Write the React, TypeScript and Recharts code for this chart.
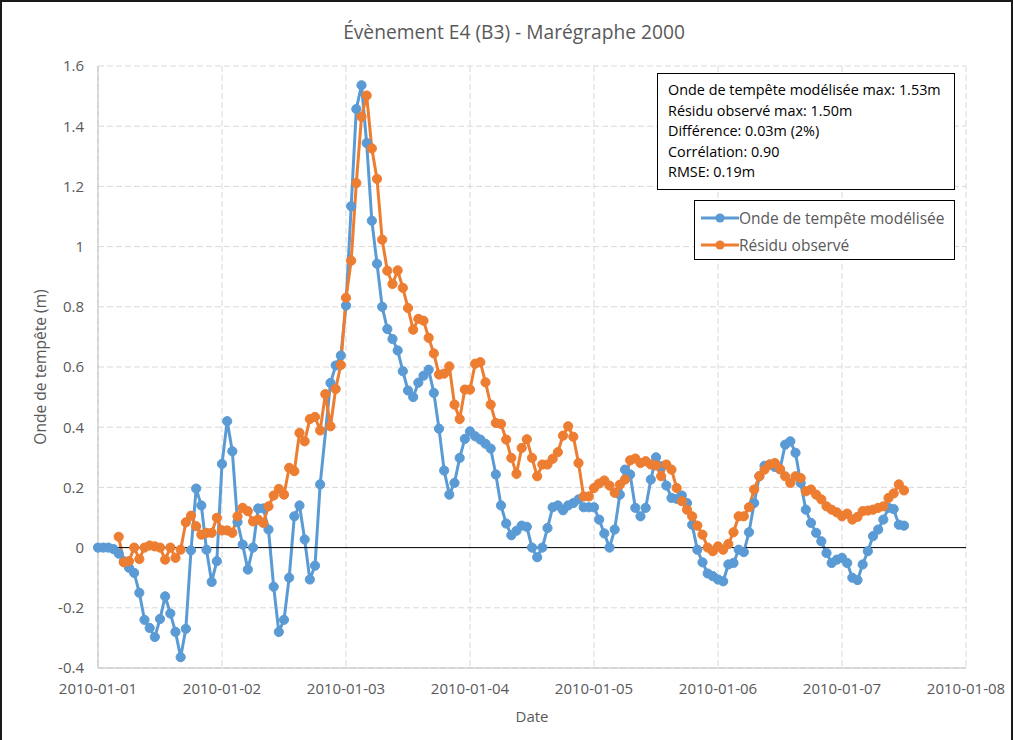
import React from 'react';
import { LineChart, Line, XAxis, YAxis, CartesianGrid, ReferenceLine } from 'recharts';

// Hourly values (index = hours since 2010-01-01 00:00)
const modeledSurge: (number | null)[] = [
  0.0, 0.0, 0.0, -0.005, -0.02, -0.045, -0.067, -0.084, -0.15, -0.24,
  -0.267, -0.297, -0.237, -0.162, -0.219, -0.28, -0.364, -0.27, -0.009, 0.196,
  0.14, -0.007, -0.114, -0.045, 0.278, 0.42, 0.32, 0.085, 0.01, -0.073,
  0.0, 0.13, 0.13, 0.06, -0.13, -0.28, -0.24, -0.1, 0.104, 0.14,
  0.027, -0.106, -0.06, 0.21, null, 0.547, 0.605, 0.638, 0.804, 1.134,
  1.457, 1.536, 1.344, 1.086, 0.943, 0.8, 0.726, 0.693, 0.655, 0.586,
  0.522, 0.5, 0.548, 0.571, 0.591, 0.514, 0.395, 0.256, 0.176, 0.215,
  0.298, 0.361, 0.386, 0.37, 0.359, 0.345, 0.329, 0.243, 0.14, 0.08,
  0.041, 0.056, 0.073, 0.069, 0.0, -0.032, 0.0, 0.065, 0.134, 0.14,
  0.124, 0.14, 0.148, 0.16, 0.134, 0.134, 0.134, 0.093, 0.047, 0.0,
  0.06, 0.176, 0.259, 0.243, 0.132, 0.104, 0.132, 0.226, 0.3, 0.27,
  0.206, 0.165, 0.162, 0.173, 0.148, 0.076, -0.007, -0.049, -0.086, -0.095,
  -0.106, -0.112, -0.056, -0.051, -0.007, -0.015, 0.051, 0.148, 0.237, 0.272,
  0.276, 0.268, 0.26, 0.342, 0.353, 0.315, 0.215, 0.126, 0.082, 0.049,
  0.021, -0.018, -0.051, -0.04, -0.034, -0.051, -0.1, -0.108, -0.056, -0.012,
  0.038, 0.06, 0.093, 0.132, 0.128, 0.076, 0.073,
];

const observedResidual: (number | null)[] = [
  null, null, null, null, 0.036, -0.049, -0.045, 0.0, -0.038, 0.0,
  0.007, 0.004, 0.0, -0.04, 0.0, -0.034, -0.007, 0.084, 0.106, 0.071,
  0.043, 0.049, 0.049, 0.099, 0.057, 0.057, 0.049, 0.104, 0.132, 0.121,
  0.087, 0.093, 0.082, 0.137, 0.173, 0.195, 0.176, 0.265, 0.254, 0.381,
  0.353, 0.427, 0.434, 0.389, 0.51, 0.403, 0.527, 0.607, 0.83, 0.953,
  1.211, 1.431, 1.502, 1.326, 1.225, 1.023, 0.92, 0.876, 0.921, 0.863,
  0.796, 0.724, 0.76, 0.754, 0.697, 0.645, 0.575, 0.578, 0.602, 0.475,
  0.427, 0.525, 0.525, 0.611, 0.616, 0.549, 0.475, 0.414, 0.411, 0.359,
  0.298, 0.245, 0.331, 0.36, 0.298, 0.237, 0.276, 0.276, 0.295, 0.317,
  0.372, 0.403, 0.368, 0.281, 0.17, 0.17, 0.198, 0.213, 0.223, 0.206,
  0.182, 0.209, 0.226, 0.29, 0.296, 0.281, 0.287, 0.276, 0.273, 0.237,
  0.276, 0.259, 0.198, 0.154, 0.126, 0.104, 0.073, 0.043, 0.0, -0.012,
  0.004, -0.007, 0.012, 0.051, 0.104, 0.104, 0.134, 0.193, 0.237, 0.259,
  0.276, 0.281, 0.261, 0.237, 0.215, 0.237, 0.231, 0.187, 0.193, 0.176,
  0.16, 0.137, 0.126, 0.117, 0.104, 0.113, 0.093, 0.102, 0.121, 0.123,
  0.126, 0.132, 0.137, 0.165, 0.18, 0.21, 0.19,
];

const dayTicks = [0, 24, 48, 72, 96, 120, 144, 168];
const dayLabels = [
  '2010-01-01', '2010-01-02', '2010-01-03', '2010-01-04',
  '2010-01-05', '2010-01-06', '2010-01-07', '2010-01-08',
];
const yTicks = [-0.4, -0.2, 0, 0.2, 0.4, 0.6, 0.8, 1, 1.2, 1.4, 1.6];

const seriesNames = ['Onde de tempête modélisée', 'Résidu observé'];
const seriesColors = ['#5B9BD5', '#ED7D31'];
const statsLines = [
  'Onde de tempête modélisée max: 1.53m',
  'Résidu observé max: 1.50m',
  'Différence: 0.03m (2%)',
  'Corrélation: 0.90',
  'RMSE: 0.19m',
];
const title = 'Évènement E4 (B3) - Marégraphe 2000';

const data = modeledSurge.map((v, i) => ({
  hour: i,
  modele: v,
  observe: observedResidual[i],
}));

const FONT = "'Open Sans', sans-serif";

export default function App() {
  return (
    <div
      style={{
        position: 'absolute',
        left: 0,
        top: 0,
        width: 1013,
        height: 740,
        background: '#fff',
        fontFamily: FONT,
        overflow: 'hidden',
      }}
    >
      <LineChart
        width={1013}
        height={740}
        data={data}
        margin={{ top: 66, right: 47, bottom: 22, left: 20 }}
      >
        <CartesianGrid stroke="#d9d9d9" strokeDasharray="6 3" />
        <XAxis
          dataKey="hour"
          type="number"
          domain={[0, 168]}
          ticks={dayTicks}
          interval={0}
          tickFormatter={(v: number) => dayLabels[dayTicks.indexOf(v)] ?? ''}
          height={50}
          tickLine={false}
          tickMargin={9}
          axisLine={{ stroke: '#bfbfbf', strokeWidth: 1 }}
          tick={{ fill: '#595959', fontSize: 15 }}
          label={{ value: 'Date', position: 'insideBottom', offset: -4, fill: '#595959', fontSize: 15 }}
        />
        <YAxis
          type="number"
          domain={[-0.4, 1.6]}
          ticks={yTicks}
          interval={0}
          allowDataOverflow
          width={78}
          tickLine={false}
          tickMargin={8}
          axisLine={{ stroke: '#bfbfbf', strokeWidth: 1 }}
          tick={{ fill: '#595959', fontSize: 15 }}
          tickFormatter={(v: number) => String(Number(v.toFixed(1)))}
          label={{ value: 'Onde de tempête (m)', angle: -90, position: 'center', dx: -19, fill: '#595959', fontSize: 15.6 }}
        />
        <Line
          dataKey="modele"
          name={seriesNames[0]}
          stroke={seriesColors[0]}
          strokeWidth={3}
          dot={{ r: 4.6, fill: seriesColors[0], stroke: seriesColors[0], strokeWidth: 1 }}
          activeDot={false}
          connectNulls
          isAnimationActive={false}
        />
        <Line
          dataKey="observe"
          name={seriesNames[1]}
          stroke={seriesColors[1]}
          strokeWidth={3}
          dot={{ r: 4.6, fill: seriesColors[1], stroke: seriesColors[1], strokeWidth: 1 }}
          activeDot={false}
          connectNulls
          isAnimationActive={false}
        />
        <ReferenceLine y={0} stroke="#000" strokeWidth={1} />
      </LineChart>

      <div
        style={{
          position: 'absolute',
          left: 0,
          width: 1028,
          top: 19,
          textAlign: 'center',
          fontSize: 19.2,
          color: '#595959',
          lineHeight: '26px',
          whiteSpace: 'nowrap',
        }}
      >
        {title}
      </div>

      <div
        style={{
          position: 'absolute',
          left: 657,
          top: 73,
          width: 298,
          height: 117,
          boxSizing: 'border-box',
          border: '1.5px solid #000',
          background: '#fff',
          padding: '6px 0 0 10px',
          fontSize: 14.4,
          lineHeight: '20.6px',
          color: '#000',
          whiteSpace: 'nowrap',
        }}
      >
        {statsLines.map((l) => (
          <div key={l}>{l}</div>
        ))}
      </div>

      <div
        style={{
          position: 'absolute',
          left: 694,
          top: 200,
          width: 261,
          height: 60,
          boxSizing: 'border-box',
          border: '1.5px solid #000',
          background: '#fff',
          paddingTop: 3,
          fontSize: 15.5,
          color: '#595959',
          whiteSpace: 'nowrap',
        }}
      >
        {seriesNames.map((n, i) => (
          <div key={n} style={{ display: 'flex', alignItems: 'center', height: 27 }}>
            <svg width={38} height={14} style={{ marginLeft: 6, flex: 'none' }}>
              <line x1={0} y1={7} x2={38} y2={7} stroke={seriesColors[i]} strokeWidth={3} />
              <circle cx={19} cy={7} r={4.6} fill={seriesColors[i]} />
            </svg>
            <span>{n}</span>
          </div>
        ))}
      </div>

      <div
        style={{
          position: 'absolute',
          left: 0,
          top: 0,
          width: 1013,
          height: 760,
          boxSizing: 'border-box',
          border: '2px solid #1a1a1a',
          pointerEvents: 'none',
        }}
      />
    </div>
  );
}
